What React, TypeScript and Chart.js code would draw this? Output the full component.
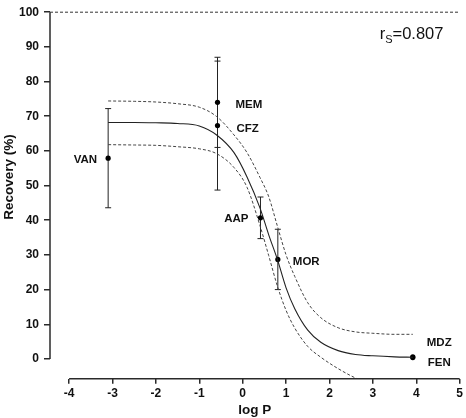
import React, { useEffect, useRef } from "react";
import { Chart, registerables } from "chart.js";

Chart.register(...registerables);

// ---- data ----
const drugNames = ["VAN", "MEM", "CFZ", "AAP", "MOR", "MDZ", "FEN"];
const drugLogP = [-3.1, -0.58, -0.58, 0.41, 0.81, 3.92, 3.92];
const drugRecovery = [57.9, 74.0, 67.3, 40.7, 28.7, 0.6, 0.4];
const drugSD = [14.3, 13.0, 18.6, 6.0, 8.7, 0, 0];

const curveLogP = [-3.1, -2.5, -2.0, -1.5, -1.0, -0.6, -0.2, 0.1, 0.4, 0.6, 0.8, 1.0, 1.2, 1.5, 1.8, 2.2, 2.6, 3.0, 3.5, 3.92];
const fitCurve = [68.2, 68.2, 68.1, 67.9, 67.2, 64.6, 59.5, 52.5, 43.5, 35.8, 28.7, 20.5, 14.5, 8.3, 4.8, 2.4, 1.3, 0.9, 0.6, 0.5];
const upperBand = [74.4, 74.3, 74.1, 73.6, 72.6, 69.9, 64.6, 59.5, 52.3, 46.8, 38.3, 30.0, 23.8, 16.2, 11.9, 9.0, 7.8, 7.4, 7.1, 7.1];
const lowerBand = [61.8, 61.7, 61.6, 61.2, 60.6, 59.2, 55.2, 49.5, 38.4, 29.8, 21.0, 14.0, 8.9, 3.6, 0.5, -2.8, -5.5, -7.5, -8.8, -9.2];

const xTicks = [-4, -3, -2, -1, 0, 1, 2, 3, 4, 5];
const yTicks = [0, 10, 20, 30, 40, 50, 60, 70, 80, 90, 100];
const referenceLine = 100;
const spearman = "0.807";
const yTitle = "Recovery (%)";
const xTitle = "log P";

// label offsets (px) relative to each point
const labelDX = [-11, 18, 19, -12, 15, 14, 15];
const labelDY = [2, 2, 3, 1, 2, -14, 5];
const labelAlign: CanvasTextAlign[] = ["right", "left", "left", "right", "left", "left", "left"];

const FONT = '"Liberation Sans", Arial, Helvetica, sans-serif';
const AXIS_COLOR = "#2a2a2a";

const overlayPlugin = {
  id: "overlay",
  beforeDatasetsDraw(chart: any) {
    const { ctx } = chart;
    const xs = chart.scales.x;
    const ys = chart.scales.y;
    ctx.save();
    ctx.strokeStyle = "#222";
    ctx.lineWidth = 1;
    for (let i = 0; i < drugNames.length; i++) {
      if (!drugSD[i]) continue;
      const px = xs.getPixelForValue(drugLogP[i]);
      const top = ys.getPixelForValue(drugRecovery[i] + drugSD[i]);
      const bot = ys.getPixelForValue(drugRecovery[i] - drugSD[i]);
      ctx.beginPath();
      ctx.moveTo(px, top);
      ctx.lineTo(px, bot);
      ctx.moveTo(px - 3, top);
      ctx.lineTo(px + 3, top);
      ctx.moveTo(px - 3, bot);
      ctx.lineTo(px + 3, bot);
      ctx.stroke();
    }
    ctx.restore();
  },
  afterDraw(chart: any) {
    const { ctx, chartArea } = chart;
    const xs = chart.scales.x;
    const ys = chart.scales.y;
    ctx.save();
    // axis lines (Prism-style detached axes)
    ctx.strokeStyle = AXIS_COLOR;
    ctx.lineWidth = 1.5;
    ctx.beginPath();
    ctx.moveTo(chartArea.left, ys.getPixelForValue(yTicks[0]));
    ctx.lineTo(chartArea.left, ys.getPixelForValue(yTicks[yTicks.length - 1]));
    ctx.stroke();
    ctx.beginPath();
    ctx.moveTo(xs.getPixelForValue(xTicks[0]), chartArea.bottom);
    ctx.lineTo(xs.getPixelForValue(xTicks[xTicks.length - 1]), chartArea.bottom);
    ctx.stroke();

    // y-axis title
    ctx.save();
    ctx.fillStyle = "#111";
    ctx.font = `bold 13.5px ${FONT}`;
    ctx.textAlign = "center";
    ctx.textBaseline = "middle";
    ctx.translate(9.5, ys.getPixelForValue(52.5));
    ctx.rotate(-Math.PI / 2);
    ctx.fillText(yTitle, 0, 0);
    ctx.restore();

    // drug labels
    ctx.fillStyle = "#111";
    ctx.font = `bold 11.5px ${FONT}`;
    ctx.textBaseline = "middle";
    for (let i = 0; i < drugNames.length; i++) {
      const px = xs.getPixelForValue(drugLogP[i]);
      const py = ys.getPixelForValue(drugRecovery[i]);
      ctx.textAlign = labelAlign[i];
      ctx.fillText(drugNames[i], px + labelDX[i], py + labelDY[i]);
    }

    // r_s annotation
    ctx.textAlign = "left";
    ctx.textBaseline = "alphabetic";
    const baseY = chartArea.top + 27;
    let x = chartArea.right - 80;
    ctx.font = `16.5px ${FONT}`;
    ctx.fillText("r", x, baseY);
    x += ctx.measureText("r").width;
    ctx.font = `11px ${FONT}`;
    ctx.fillText("S", x, baseY + 4);
    x += ctx.measureText("S").width;
    ctx.font = `16.5px ${FONT}`;
    ctx.fillText("=" + spearman, x, baseY);
    ctx.restore();
  },
};

export default function App() {
  const ref = useRef<HTMLCanvasElement | null>(null);
  useEffect(() => {
    document.body.style.margin = "0";
    const canvas = ref.current;
    if (!canvas) return;
    const toXY = (ys: number[]) => curveLogP.map((x, i) => ({ x, y: ys[i] }));
    const chart = new Chart(canvas, {
      type: "scatter",
      data: {
        datasets: [
          {
            label: "ref",
            data: [
              { x: -4.44, y: referenceLine },
              { x: 5, y: referenceLine },
            ],
            showLine: true,
            borderColor: "#333",
            borderWidth: 1,
            borderDash: [3, 2],
            pointRadius: 0,
            clip: false as any,
          },
          {
            label: "upper",
            data: toXY(upperBand),
            showLine: true,
            borderColor: "#444",
            borderWidth: 1,
            borderDash: [3, 2],
            pointRadius: 0,
            cubicInterpolationMode: "monotone",
          },
          {
            label: "lower",
            data: toXY(lowerBand),
            showLine: true,
            borderColor: "#444",
            borderWidth: 1,
            borderDash: [3, 2],
            pointRadius: 0,
            cubicInterpolationMode: "monotone",
          },
          {
            label: "fit",
            data: toXY(fitCurve),
            showLine: true,
            borderColor: "#222",
            borderWidth: 1.1,
            pointRadius: 0,
            cubicInterpolationMode: "monotone",
          },
          {
            label: "drugs",
            data: drugLogP.map((x, i) => ({ x, y: drugRecovery[i] })),
            showLine: false,
            pointRadius: 2.6,
            pointBackgroundColor: "#000",
            pointBorderColor: "#000",
            pointBorderWidth: 0,
          },
        ],
      },
      options: {
        animation: false,
        responsive: false,
        devicePixelRatio: 1,
        layout: { padding: { top: 7.3, right: 5, left: 0, bottom: 0 } },
        plugins: { legend: { display: false }, tooltip: { enabled: false } },
        scales: {
          x: {
            type: "linear",
            min: -4.44,
            max: 5,
            afterBuildTicks: (s: any) => {
              s.ticks = xTicks.map((v) => ({ value: v }));
            },
            afterFit: (s: any) => {
              s.height = 39.3;
            },
            border: { display: false },
            grid: {
              drawOnChartArea: false,
              drawTicks: true,
              tickLength: 5,
              color: AXIS_COLOR,
              lineWidth: 1.5,
            },
            ticks: {
              color: "#111",
              font: { family: FONT, size: 12, weight: "bold" },
              padding: 3,
              maxRotation: 0,
            },
            title: {
              display: true,
              text: xTitle,
              color: "#111",
              font: { family: FONT, size: 13.5, weight: "bold" },
              padding: { top: 0, bottom: 0 },
            },
          },
          y: {
            type: "linear",
            min: -5.7,
            max: 100,
            afterBuildTicks: (s: any) => {
              s.ticks = yTicks.map((v) => ({ value: v }));
            },
            afterFit: (s: any) => {
              s.width = 50;
            },
            border: { display: false },
            grid: {
              drawOnChartArea: false,
              drawTicks: true,
              tickLength: 6,
              color: AXIS_COLOR,
              lineWidth: 1.5,
            },
            ticks: {
              color: "#111",
              font: { family: FONT, size: 12, weight: "bold" },
              padding: 5,
            },
            title: { display: false },
          },
        },
      } as any,
      plugins: [overlayPlugin],
    });
    return () => chart.destroy();
  }, []);
  return (
    <div style={{ width: 466, height: 418, background: "#fff" }}>
      <canvas ref={ref} width={466} height={418} style={{ display: "block" }} />
    </div>
  );
}
